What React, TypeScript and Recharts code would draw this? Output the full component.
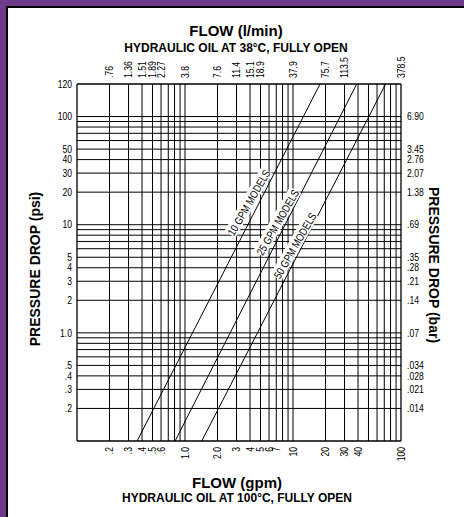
import React from 'react';
import { ComposedChart, Line, XAxis, YAxis, ReferenceLine, ReferenceDot } from 'recharts';

// flow axis (gpm, bottom) and its l/min twin (top)
const gpmTicks = [0.2, 0.3, 0.4, 0.5, 0.6, 1, 2, 3, 4, 5, 6, 7, 10, 20, 30, 40, 100];
const gpmLabels = ['.2', '.3', '.4', '.5', '.6', '1.0', '2.0', '3', '4', '5', '6', '7', '10', '20', '30', '40', '100'];
const lminTicks = [0.2, 0.3, 0.4, 0.5, 0.6, 1, 2, 3, 4, 5, 10, 20, 30, 100];
const lminLabels = ['.76', '1.36', '1.51', '1.89', '2.27', '3.8', '7.6', '11.4', '15.1', '18.9', '37.9', '75.7', '113.5', '378.5'];

// pressure axis (psi, left) and bar twin (right)
const psiTicks = [0.2, 0.3, 0.4, 0.5, 1, 2, 3, 4, 5, 10, 20, 30, 40, 50, 100, 200];
const psiLabels = ['.2', '.3', '.4', '.5', '1.0', '2', '3', '4', '5', '10', '20', '30', '40', '50', '100', '120'];
const barTicks = [0.2, 0.3, 0.4, 0.5, 1, 2, 3, 4, 5, 10, 20, 30, 40, 50, 100];
const barLabels = ['.014', '.021', '.028', '.034', '.07', '.14', '.21', '.28', '.35', '.69', '1.38', '2.07', '2.76', '3.45', '6.90'];

// grid lines
const gridGpm = [0.2, 0.3, 0.4, 0.5, 0.6, 0.7, 0.8, 0.9, 1, 2, 3, 4, 5, 6, 7, 8, 9, 10, 20, 30, 40, 50, 60, 70, 80, 90];
const gridPsi = [0.2, 0.3, 0.4, 0.5, 0.6, 0.7, 0.8, 0.9, 1, 2, 3, 4, 5, 6, 7, 8, 9, 10, 20, 30, 40, 50, 60, 70, 80, 90, 100];

// model curves (straight in log-log)
const tenGpm = [{ gpm: 0.36, psi: 0.1 }, { gpm: 17.8, psi: 200 }];
const twentyFiveGpm = [{ gpm: 0.81, psi: 0.1 }, { gpm: 38.9, psi: 200 }];
const fiftyGpm = [{ gpm: 1.43, psi: 0.1 }, { gpm: 72, psi: 200 }];

const curveLabels = [
  { gpm: 3.9, psi: 16, text: '10 GPM MODELS' },
  { gpm: 7.2, psi: 10.5, text: '25 GPM MODELS' },
  { gpm: 10.4, psi: 6.4, text: '50 GPM MODELS' },
];

const sans = '"Liberation Sans", Arial, Helvetica, sans-serif';
const purple = '#6e3a8a';
const squeeze = 0.82; // fake a narrow face

const pick = (vals: number[], labels: string[], v: number) => {
  const i = vals.findIndex((t) => Math.abs(t - v) < 1e-9);
  return i >= 0 ? labels[i] : '';
};

const tickText = (x: number, y: number, rot: number, anchor: string, label: string) => (
  <text transform={`translate(${x},${y}) rotate(${rot}) scale(${squeeze},1)`} x={0} y={0} dy="0.35em"
    textAnchor={anchor} fontSize={10.5} fontFamily={sans} fill="#000">
    {label}
  </text>
);

const LeftTick = (p: any) => tickText(p.x, p.y, 0, 'end', pick(psiTicks, psiLabels, p.payload.value));
const RightTick = (p: any) => tickText(p.x, p.y, 0, 'start', pick(barTicks, barLabels, p.payload.value));
const TopTick = (p: any) => tickText(p.x, p.y, -90, 'start', pick(lminTicks, lminLabels, p.payload.value));
const BottomTick = (p: any) => tickText(p.x, p.y, -90, 'end', pick(gpmTicks, gpmLabels, p.payload.value));

const CurveLabel = (text: string) => (p: any) => (
  <g transform={`translate(${p.cx},${p.cy}) rotate(-60)`}>
    <rect x={-37} y={-7} width={74} height={13} fill="#fff" />
    <text transform={`scale(${squeeze},1)`} x={0} y={0} dy="0.36em" textAnchor="middle" fontSize={11}
      fontFamily={sans} fill="#000">
      {text}
    </text>
  </g>
);

const axisLine = { stroke: '#000', strokeWidth: 1.3 };

export default function App() {
  return (
    <div style={{ position: 'absolute', left: 0, top: 0, width: 464, height: 517, background: '#fff', overflow: 'hidden' }}>
      <div style={{ position: 'absolute', left: 0, top: 0, width: 464, height: 6, background: purple }} />
      <div style={{ position: 'absolute', left: 0, top: 0, width: 6, height: 517, background: purple }} />
      <div style={{ position: 'absolute', left: 6, top: 6, width: 458, height: 2, background: '#000' }} />
      <div style={{ position: 'absolute', left: 6, top: 6, width: 2, height: 511, background: '#000' }} />

      <div style={{ position: 'absolute', left: 0, top: 0 }}>
        <ComposedChart width={464} height={517} margin={{ top: 44, right: 18, bottom: 46, left: 32 }}>
          <XAxis xAxisId={0} dataKey="gpm" type="number" scale="log" domain={[0.1, 100]} allowDataOverflow
            ticks={gpmTicks} interval={0} tickSize={0} tickMargin={6} tickLine={false} axisLine={axisLine}
            height={30} tick={BottomTick} />
          <XAxis xAxisId="top" orientation="top" dataKey="gpm" type="number" scale="log" domain={[0.1, 100]} allowDataOverflow
            ticks={lminTicks} interval={0} tickSize={0} tickMargin={6} tickLine={false} axisLine={axisLine}
            height={40} tick={TopTick} />
          <YAxis yAxisId={0} type="number" scale="log" domain={[0.1, 200]} allowDataOverflow
            ticks={psiTicks} interval={0} tickSize={0} tickMargin={5} tickLine={false} axisLine={axisLine}
            width={45} tick={LeftTick} />
          <YAxis yAxisId="right" orientation="right" type="number" scale="log" domain={[0.1, 200]} allowDataOverflow
            ticks={barTicks} interval={0} tickSize={0} tickMargin={6} tickLine={false} axisLine={axisLine}
            width={45} tick={RightTick} />

          {gridGpm.map((v) => (
            <ReferenceLine key={'gx' + v} x={v} stroke="#000" strokeWidth={1} />
          ))}
          {gridPsi.map((v) => (
            <ReferenceLine key={'gy' + v} y={v} stroke="#000" strokeWidth={1} />
          ))}

          {curveLabels.map((c) => (
            <ReferenceDot key={c.text} x={c.gpm} y={c.psi} r={0} shape={CurveLabel(c.text)} />
          ))}

          <Line data={tenGpm} dataKey="psi" type="linear" stroke="#000" strokeWidth={1} dot={false} isAnimationActive={false} />
          <Line data={twentyFiveGpm} dataKey="psi" type="linear" stroke="#000" strokeWidth={1} dot={false} isAnimationActive={false} />
          <Line data={fiftyGpm} dataKey="psi" type="linear" stroke="#000" strokeWidth={1} dot={false} isAnimationActive={false} />
          <Line data={tenGpm} xAxisId="top" yAxisId="right" dataKey="psi" type="linear" stroke="none" dot={false} isAnimationActive={false} />
        </ComposedChart>
      </div>

      <svg width={464} height={517} style={{ position: 'absolute', left: 0, top: 0, pointerEvents: 'none' }}>
        <g fontFamily={sans} fontWeight="bold" fill="#000" textAnchor="middle">
          <text x={236} y={36} fontSize={15}>FLOW (l/min)</text>
          <text x={236} y={52} fontSize={12}>HYDRAULIC OIL AT 38°C, FULLY OPEN</text>
          <text x={237} y={488} fontSize={15}>FLOW (gpm)</text>
          <text x={237} y={502} fontSize={12}>HYDRAULIC OIL AT 100°C, FULLY OPEN</text>
          <text x={40} y={269} fontSize={14} transform="rotate(-90 40 269)">PRESSURE DROP (psi)</text>
          <text x={429} y={265} fontSize={14} transform="rotate(90 429 265)">PRESSURE DROP (bar)</text>
        </g>
      </svg>
    </div>
  );
}
